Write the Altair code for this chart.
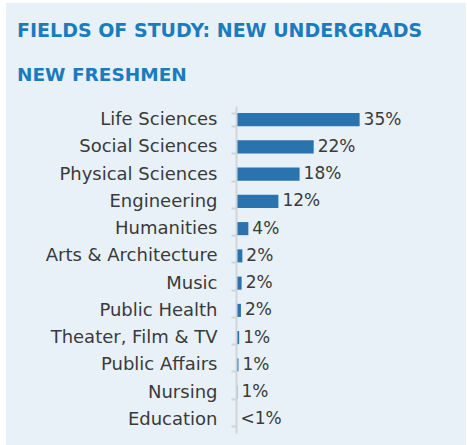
import altair as alt
import pandas as pd

fields = ["Life Sciences", "Social Sciences", "Physical Sciences", "Engineering",
          "Humanities", "Arts & Architecture", "Music", "Public Health",
          "Theater, Film & TV", "Public Affairs", "Nursing", "Education"]
shares = [35, 22, 18, 12, 3.5, 1.8, 1.6, 1.4, 0.9, 0.7, 0.4, 0.15]
labels = ["35%", "22%", "18%", "12%", "4%", "2%", "2%", "2%", "1%", "1%", "1%", "<1%"]

df = pd.DataFrame({"field": fields, "share": shares, "label": labels})

FONT = "DejaVu Sans"
BLUE = "#1b7bbd"
PANEL = "#e8f1f8"

panel = alt.Chart(pd.DataFrame({"p": [0]})).mark_rect(color=PANEL).encode(
    x=alt.value(-230), x2=alt.value(230), y=alt.value(-103), y2=alt.value(339)
)

base = alt.Chart(df).encode(
    y=alt.Y("field:N", sort=fields,
            scale=alt.Scale(paddingInner=0.52, paddingOuter=0.26),
            axis=alt.Axis(title=None, tickBand="extent", tickSize=5, tickWidth=2,
                          tickColor="#cfd5da", domainColor="#cfd5da", domainWidth=2,
                          labelPadding=14, labelFontSize=18, labelFont=FONT,
                          labelColor="#3a3a3a", labelFontWeight="normal", zindex=1))
)

bars = base.mark_bar(color="#2b73af").encode(
    x=alt.X("share:Q", scale=alt.Scale(domain=[0, 65.4], nice=False), axis=None)
)
text = base.mark_text(align="left", dx=4, fontSize=17, font=FONT, fontWeight="normal",
                      color="#3a3a3a").encode(
    x=alt.X("share:Q"), text="label:N"
)

chart = (panel + bars + text).properties(
    width=231, height=327,
    title=alt.TitleParams(
        text="FIELDS OF STUDY: NEW UNDERGRADS",
        subtitle="NEW FRESHMEN",
        anchor="start", frame="group", dx=-219, dy=87, offset=6, zindex=1,
        font="DejaVu Sans", fontSize=19, fontWeight="bold", color=BLUE,
        subtitleFont="DejaVu Sans", subtitleFontSize=18.5, subtitleFontWeight=600,
        subtitleColor=BLUE, subtitlePadding=25,
    ),
    autosize=alt.AutoSizeParams(type="none"),
    padding={"left": 236, "top": 106, "right": 0, "bottom": 12},
    background="#ffffff",
).configure_view(stroke=None)

chart.save("out.html", embed_options={"renderer": "svg", "actions": False})
